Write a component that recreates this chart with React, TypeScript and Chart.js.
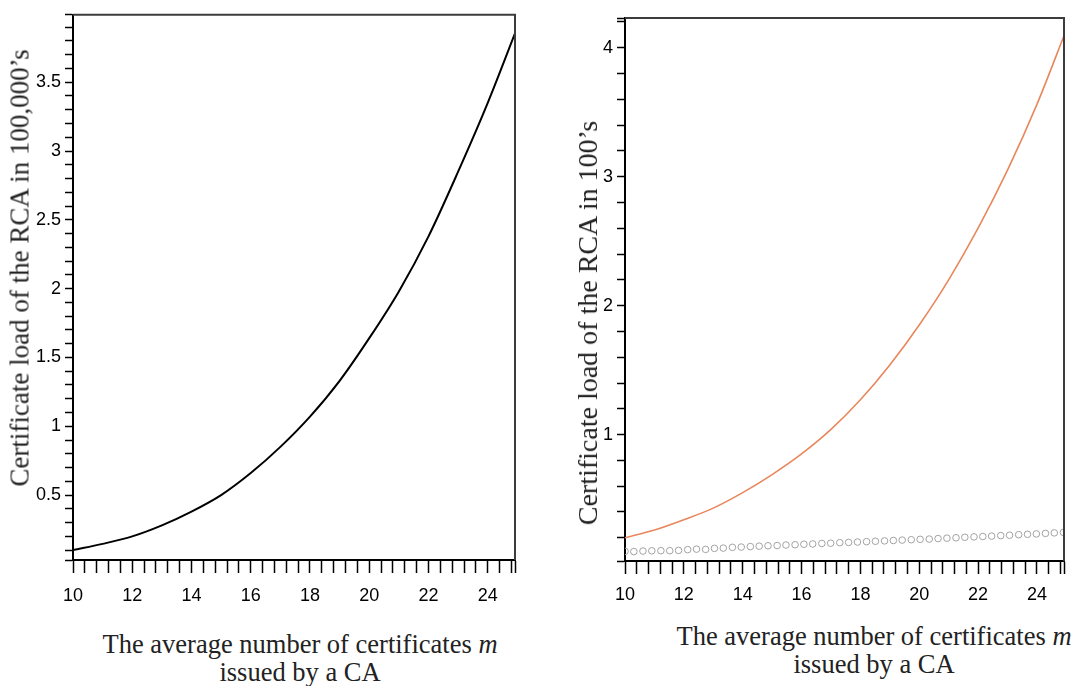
import React, { useEffect, useRef } from "react";
import { Chart, registerables } from "chart.js";
Chart.register(...registerables);

// ---- data ----
const mValues = [10, 11, 12, 13, 14, 15, 16, 17, 18, 19, 20, 21, 22, 23, 24, 25];
const loadLeft = [0.1, 0.145, 0.2, 0.28, 0.38, 0.5, 0.66, 0.85, 1.07, 1.33, 1.64, 1.98, 2.38, 2.85, 3.35, 3.9];
const loadRightOrange = [0.2, 0.26, 0.34, 0.43, 0.55, 0.69, 0.85, 1.04, 1.27, 1.54, 1.85, 2.2, 2.6, 3.05, 3.56, 4.14];
const circleM = [
  10, 10.3, 10.61, 10.91, 11.22, 11.52, 11.82, 12.13, 12.43, 12.74,
  13.04, 13.34, 13.65, 13.95, 14.26, 14.56, 14.86, 15.17, 15.47, 15.78,
  16.08, 16.38, 16.69, 16.99, 17.3, 17.6, 17.9, 18.21, 18.51, 18.82,
  19.12, 19.42, 19.73, 20.03, 20.34, 20.64, 20.94, 21.25, 21.55, 21.86,
  22.16, 22.46, 22.77, 23.07, 23.38, 23.68, 23.98, 24.29, 24.59, 24.9,
];
const circleLoad = [
  0.095, 0.093, 0.097, 0.099, 0.1, 0.1, 0.102, 0.108, 0.112, 0.11,
  0.118, 0.12, 0.126, 0.128, 0.132, 0.135, 0.138, 0.14, 0.144, 0.146,
  0.15, 0.152, 0.156, 0.158, 0.162, 0.164, 0.167, 0.17, 0.173, 0.176,
  0.179, 0.182, 0.185, 0.188, 0.19, 0.194, 0.197, 0.2, 0.204, 0.207,
  0.21, 0.213, 0.217, 0.22, 0.224, 0.227, 0.23, 0.234, 0.238, 0.242,
];
const xMajorLabels = [10, 12, 14, 16, 18, 20, 22, 24];
const yLeftLabels = [0.5, 1, 1.5, 2, 2.5, 3, 3.5];
const yRightLabels = [1, 2, 3, 4];

const X_MIN = 10;
const X_MAX = 24.92;
const X_MINOR = 0.4;

const TICK_FONT = { family: "'Liberation Sans', Arial, sans-serif", size: 18 };
const SERIF = "'Liberation Serif', 'Times New Roman', serif";

function near(a: number, b: number) {
  return Math.abs(a - b) < 1e-6;
}

function stepTicks(min: number, max: number, start: number, step: number) {
  const out: number[] = [min];
  for (let i = 0; ; i++) {
    const v = Math.round((start + i * step) * 1000) / 1000;
    if (v > max - 1e-6) break;
    if (v > min + 1e-6) out.push(v);
  }
  out.push(max);
  return out;
}

const framePlugin = {
  id: "frame",
  afterDraw(chart: any) {
    const { ctx, chartArea: a } = chart;
    ctx.save();
    ctx.strokeStyle = "#3c3c3c";
    ctx.lineWidth = 2;
    ctx.beginPath();
    ctx.moveTo(a.left, a.top);
    ctx.lineTo(a.right, a.top);
    ctx.lineTo(a.right, a.bottom);
    ctx.stroke();
    ctx.restore();
  },
};

function makeConfig(p: {
  datasets: any[];
  yMin: number;
  yMax: number;
  yStep: number;
  yLabels: number[];
  yWidth: number;
  padRight: number;
  padTop: number;
  xHeight: number;
  xPad: number;
}) {
  const xTicks = stepTicks(X_MIN, X_MAX, X_MIN, X_MINOR);
  const yTicks = stepTicks(p.yMin, p.yMax, p.yStep, p.yStep);
  return {
    type: "line",
    data: { datasets: p.datasets },
    plugins: [framePlugin],
    options: {
      animation: false,
      responsive: false,
      devicePixelRatio: 1,
      layout: { autoPadding: false, padding: { left: 0, right: p.padRight, top: p.padTop, bottom: 0 } },
      plugins: { legend: { display: false }, tooltip: { enabled: false } },
      scales: {
        x: {
          type: "linear",
          min: X_MIN,
          max: X_MAX,
          afterBuildTicks: (s: any) => {
            s.ticks = xTicks.map((v) => ({ value: v }));
          },
          afterFit: (s: any) => {
            s.height = p.xHeight;
          },
          grid: { drawOnChartArea: false, drawTicks: true, tickLength: 13, tickColor: "#000", tickWidth: 1.5 },
          border: { display: true, color: "#000", width: 2 },
          ticks: {
            autoSkip: false,
            maxRotation: 0,
            padding: p.xPad,
            color: "#000",
            font: TICK_FONT,
            callback: (v: number) => (xMajorLabels.some((m) => near(m, v)) ? String(Math.round(v)) : ""),
          },
        },
        y: {
          type: "linear",
          min: p.yMin,
          max: p.yMax,
          afterBuildTicks: (s: any) => {
            s.ticks = yTicks.map((v) => ({ value: v }));
          },
          afterFit: (s: any) => {
            s.width = p.yWidth;
          },
          grid: { drawOnChartArea: false, drawTicks: true, tickLength: 8, tickColor: "#000", tickWidth: 1.5 },
          border: { display: true, color: "#000", width: 2 },
          ticks: {
            autoSkip: false,
            padding: 4,
            color: "#000",
            font: TICK_FONT,
            callback: (v: number) => {
              const lab = p.yLabels.find((m) => near(m, v));
              return lab === undefined ? "" : String(lab);
            },
          },
        },
      },
    },
  };
}

function ChartCanvas(props: { config: any; left: number; width: number; height: number }) {
  const ref = useRef<HTMLCanvasElement>(null);
  useEffect(() => {
    const c = new Chart(ref.current as HTMLCanvasElement, props.config);
    return () => c.destroy();
  }, []);
  return (
    <canvas
      ref={ref}
      width={props.width}
      height={props.height}
      style={{ position: "absolute", left: props.left, top: 0, width: props.width, height: props.height }}
    />
  );
}

function XTitle(props: { cx: number; top: number }) {
  return (
    <div
      style={{
        position: "absolute",
        left: props.cx,
        top: props.top,
        transform: "translateX(-50%)",
        textAlign: "center",
        whiteSpace: "nowrap",
        fontFamily: SERIF,
        fontSize: 26.5,
        lineHeight: "27.5px",
        color: "#222",
      }}
    >
      The average number of certificates <i>m</i>
      <br />
      issued by a CA
    </div>
  );
}

function YTitle(props: { cx: number; cy: number; text: string; size: number }) {
  return (
    <div
      style={{
        position: "absolute",
        left: props.cx,
        top: props.cy,
        transform: "translate(-50%, -50%) rotate(-90deg)",
        whiteSpace: "nowrap",
        fontFamily: SERIF,
        fontSize: props.size,
        lineHeight: 1,
        color: "#222",
      }}
    >
      {props.text}
    </div>
  );
}

export default function App() {
  const leftConfig = makeConfig({
    datasets: [
      {
        data: mValues.map((m, i) => ({ x: m, y: loadLeft[i] })),
        borderColor: "#000",
        borderWidth: 2,
        pointRadius: 0,
        cubicInterpolationMode: "monotone",
      },
    ],
    yMin: 0.028,
    yMax: 3.99,
    yStep: 0.1,
    yLabels: yLeftLabels,
    yWidth: 73,
    padRight: 25,
    padTop: 13,
    xHeight: 60,
    xPad: 12,
  });
  const rightConfig = makeConfig({
    datasets: [
      {
        data: mValues.map((m, i) => ({ x: m, y: loadRightOrange[i] })),
        borderColor: "#e8875c",
        borderWidth: 1.6,
        pointRadius: 0,
        cubicInterpolationMode: "monotone",
      },
      {
        data: circleM.map((m, i) => ({ x: m, y: circleLoad[i] })),
        showLine: false,
        pointStyle: "circle",
        pointRadius: 3.3,
        pointBorderWidth: 1,
        pointBorderColor: "#a2a2a2",
        pointBackgroundColor: "rgba(255,255,255,0)",
      },
    ],
    yMin: 0.02,
    yMax: 4.23,
    yStep: 0.2,
    yLabels: yRightLabels,
    yWidth: 75,
    padRight: 8,
    padTop: 18,
    xHeight: 59,
    xPad: 10,
  });
  return (
    <div style={{ position: "absolute", left: 0, top: 0, width: 1074, height: 686, background: "#fff", overflow: "hidden" }}>
      <ChartCanvas config={leftConfig} left={0} width={540} height={620} />
      <ChartCanvas config={rightConfig} left={550} width={524} height={620} />
      <YTitle cx={20} cy={267.5} text="Certificate load of the RCA in 100,000’s" size={27} />
      <YTitle cx={588} cy={322.5} text="Certificate load of the RCA in 100’s" size={28} />
      <XTitle cx={300} top={631} />
      <XTitle cx={874} top={623} />
    </div>
  );
}
